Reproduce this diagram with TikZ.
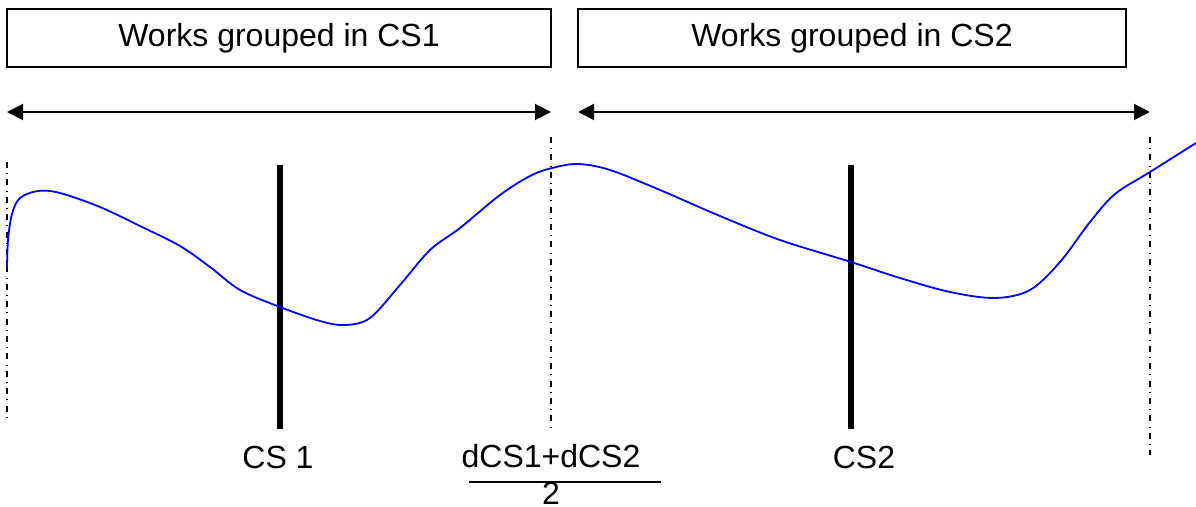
\documentclass[tikz,border=0pt]{standalone}
\usepackage{fontspec}
\setmainfont{Liberation Sans}
\usetikzlibrary{arrows.meta}

\begin{document}
\begin{tikzpicture}[
    x=0.5pt,y=-0.5pt,
    group/.style={draw,line width=0.7pt,minimum height=29pt,inner sep=0pt,
        font=\fontsize{16}{19}\selectfont},
    tag/.style={anchor=base,inner sep=0pt,font=\fontsize{16}{19}\selectfont},
    span/.style={{Triangle[length=8pt,width=8pt]}-{Triangle[length=8pt,width=8pt]},line width=1pt},
    bound/.style={line width=1pt,dash pattern=on 3pt off 2.6pt on 0.5pt off 2.6pt},
    section/.style={line width=3pt},
    profile/.style={blue,line width=0.9pt}
]
\useasboundingbox (0,0) rectangle (1196,507);
\node[group, minimum width=272pt] (grp1) at (279,38) {Works grouped in CS1};
\node[group, minimum width=274pt] (grp2) at (852,38) {Works grouped in CS2};
\coordinate (a1l) at (7,112);
\coordinate (a1r) at (551,112);
\coordinate (a2l) at (578,112);
\coordinate (a2r) at (1150,112);
\draw[span] (a1l) -- (a1r);
\draw[span] (a2l) -- (a2r);
% limits of the two groups
\coordinate (b0t) at (7,162);
\coordinate (b0b) at (7,422);
\coordinate (b1t) at (551,137);
\coordinate (b1b) at (551,430);
\coordinate (b2t) at (1150,137);
\coordinate (b2b) at (1150,455);
\draw[bound] (b0t) -- (b0b);
\draw[bound] (b1t) -- (b1b);
\draw[bound] (b2t) -- (b2b);
% sections
\coordinate (cs1t) at (280,165);
\coordinate (cs1b) at (280,429);
\coordinate (cs2t) at (851,165);
\coordinate (cs2b) at (851,429);
\draw[section] (cs1t) -- (cs1b);
\draw[section] (cs2t) -- (cs2b);
\draw[profile] plot[smooth,tension=0.55] coordinates {
    (7,268) (8,240) (12,214) (20,198) (38,191) (60,193) (100,207)
    (140,226) (180,246) (210,267) (240,290) (280,307) (320,321)
    (345,325) (370,318) (400,285) (430,250) (460,228) (500,195)
    (530,176) (552,168) (578,164) (610,170) (660,190) (720,216)
    (780,240) (851,262) (900,278) (950,292) (995,298) (1030,290)
    (1060,262) (1090,222) (1115,194) (1150,172) (1196,143)};
\node[tag] (lcs1) at (278,469) {CS 1};
\node[tag] (lcs2) at (864,469) {CS2};
\node[tag] (num) at (551,468) {dCS1+dCS2};
\node[tag] (den) at (551,505) {2};
\draw[line width=0.75pt] ([xshift=-41pt,yshift=-7pt]num.base) -- ([xshift=55pt,yshift=-7pt]num.base);
\end{tikzpicture}
\end{document}
